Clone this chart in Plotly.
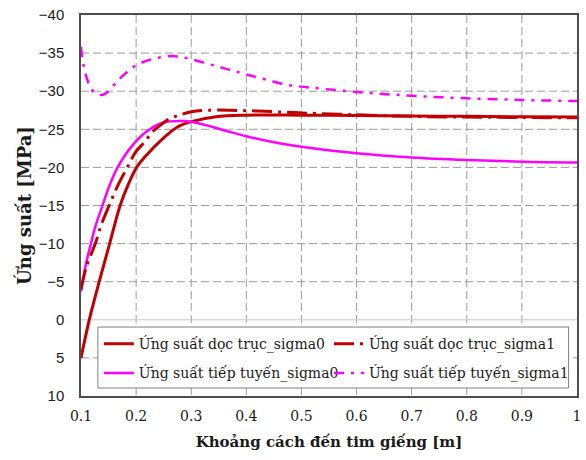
import plotly.graph_objects as go

# Distance from the well centre [m] and stresses [MPa] for each series
x_doc0 = [0.100, 0.115, 0.133, 0.152, 0.171, 0.186, 0.201, 0.220, 0.249, 0.275,
          0.300, 0.345, 0.400, 0.500, 0.600, 0.700, 0.800, 0.900, 1.000]
y_doc0 = [5.0, 0.0, -5.0, -10.0, -15.0, -17.8, -20.0, -21.7, -23.8, -25.3,
          -26.0, -26.65, -26.85, -26.85, -26.8, -26.75, -26.7, -26.65, -26.6]

x_doc1 = [0.100, 0.110, 0.126, 0.137, 0.151, 0.168, 0.184, 0.199, 0.215, 0.230,
          0.245, 0.260, 0.280, 0.300, 0.330, 0.370, 0.420, 0.500, 0.600, 0.700,
          0.800, 0.900, 1.000]
y_doc1 = [-4.0, -7.0, -10.0, -12.5, -15.0, -17.8, -20.0, -22.0, -23.3, -24.7,
          -25.6, -26.35, -26.9, -27.3, -27.5, -27.5, -27.4, -27.15, -26.9, -26.7,
          -26.6, -26.55, -26.5]

x_tiep0 = [0.100, 0.108, 0.118, 0.125, 0.139, 0.150, 0.165, 0.189, 0.219, 0.249,
           0.285, 0.300, 0.339, 0.368, 0.400, 0.450, 0.500, 0.600, 0.700, 0.800,
           0.900, 1.000]
y_tiep0 = [-3.7, -7.0, -10.0, -12.0, -15.0, -17.3, -19.8, -22.5, -24.7, -25.9,
           -26.1, -26.0, -25.3, -24.7, -24.1, -23.3, -22.7, -21.85, -21.3, -20.97,
           -20.75, -20.65]

x_tiep1 = [0.100, 0.1047, 0.114, 0.123, 0.138, 0.150, 0.162, 0.180, 0.200, 0.234,
           0.270, 0.300, 0.340, 0.370, 0.400, 0.437, 0.476, 0.500, 0.600, 0.700,
           0.800, 0.900, 1.000]
y_tiep1 = [-35.8, -33.4, -31.0, -29.9, -29.5, -30.0, -31.0, -32.3, -33.4, -34.3,
           -34.6, -34.2, -33.4, -32.8, -32.2, -31.5, -30.8, -30.6, -29.9, -29.4,
           -29.07, -28.85, -28.7]

names = ["Ứng suất dọc trục_sigma0", "Ứng suất dọc trục_sigma1",
         "Ứng suất tiếp tuyến_sigma0", "Ứng suất tiếp tuyến_sigma1"]

x_ticks = [0.1, 0.2, 0.3, 0.4, 0.5, 0.6, 0.7, 0.8, 0.9, 1.0]
y_ticks = [-40, -35, -30, -25, -20, -15, -10, -5, 0, 5, 10]

SERIF = "DejaVu Serif"
SANS = "Liberation Sans"
RED = "#C00000"
MAGENTA = "#FF00FF"
GRID = "#9a9a9a"
SMOOTH = 1.0

fig = go.Figure()

# dashed grid at the interior ticks, drawn beneath the curves
gx, gy = [], []
for v in x_ticks[1:-1]:
    gx += [v, v, None]
    gy += [y_ticks[0], y_ticks[-1], None]
for v in y_ticks[1:-1]:
    if v == 0:
        continue
    gx += [x_ticks[0], x_ticks[-1], None]
    gy += [v, v, None]
fig.add_trace(go.Scatter(x=gx, y=gy, mode="lines", showlegend=False, hoverinfo="skip",
                         line=dict(color=GRID, width=1, dash="8px,4px")))
# solid light zero line
fig.add_trace(go.Scatter(x=[x_ticks[0], x_ticks[-1]], y=[0, 0], mode="lines",
                         showlegend=False, hoverinfo="skip",
                         line=dict(color="#c8c8c8", width=1)))

fig.add_trace(go.Scatter(x=x_doc0, y=y_doc0, name=names[0], mode="lines",
                         line=dict(color=RED, width=3, shape="spline", smoothing=SMOOTH),
                         legend="legend", legendgroup="a"))
fig.add_trace(go.Scatter(x=x_tiep0, y=y_tiep0, name=names[2], mode="lines",
                         line=dict(color=MAGENTA, width=2.5, shape="spline", smoothing=SMOOTH),
                         legend="legend", legendgroup="b"))
fig.add_trace(go.Scatter(x=x_doc1, y=y_doc1, name=names[1], mode="lines",
                         line=dict(color=RED, width=3, shape="spline", smoothing=SMOOTH,
                                   dash="20px,6px,3px,6px"),
                         legend="legend2", legendgroup="c"))
fig.add_trace(go.Scatter(x=x_tiep1, y=y_tiep1, name=names[3], mode="lines",
                         line=dict(color=MAGENTA, width=2.5, shape="spline", smoothing=SMOOTH,
                                   dash="10px,7px,3px,7px"),
                         legend="legend2", legendgroup="d"))

# invisible outside ticks keep the labels away from the frame
axis_style = dict(showgrid=False, zeroline=False,
                  showline=True, mirror=True, linecolor="#4d4d4d", linewidth=1.5,
                  ticks="outside", tickcolor="rgba(0,0,0,0)")

fig.update_xaxes(range=[x_ticks[0], x_ticks[-1]], tick0=0.1, dtick=0.1,
                 tickfont=dict(family=SERIF, size=14, color="#1a1a1a"),
                 ticklen=6,
                 title=dict(text="<b>Khoảng cách đến tim giếng [m]</b>",
                            font=dict(family=SERIF, size=15, color="#1a1a1a"),
                            standoff=14),
                 **axis_style)
fig.update_yaxes(range=[y_ticks[-1], y_ticks[0]], tick0=0, dtick=5,
                 tickfont=dict(family=SANS, size=15, color="#1a1a1a"),
                 ticklen=12,
                 title=dict(text="<b>Ứng suất [MPa]</b>",
                            font=dict(family=SERIF, size=18, color="#1a1a1a"),
                            standoff=2),
                 **axis_style)

legend_common = dict(orientation="v", bgcolor="rgba(255,255,255,0)", borderwidth=0,
                     font=dict(family=SERIF, size=14, color="#1a1a1a"),
                     tracegroupgap=8, itemwidth=30, yanchor="top", xanchor="left")

fig.update_layout(
    width=586, height=460,
    margin=dict(l=81, r=5, t=15, b=64),
    plot_bgcolor="white", paper_bgcolor="white",
    showlegend=True,
    legend=dict(x=0.036, y=0.178, **legend_common),
    legend2=dict(x=0.50, y=0.178, **legend_common),
    shapes=[dict(type="rect", xref="paper", yref="paper",
                 x0=0.034, x1=0.983, y0=0.021, y1=0.181,
                 line=dict(color="#7f7f7f", width=1), fillcolor="white",
                 layer="above")],
)

fig.write_html("out.html")
